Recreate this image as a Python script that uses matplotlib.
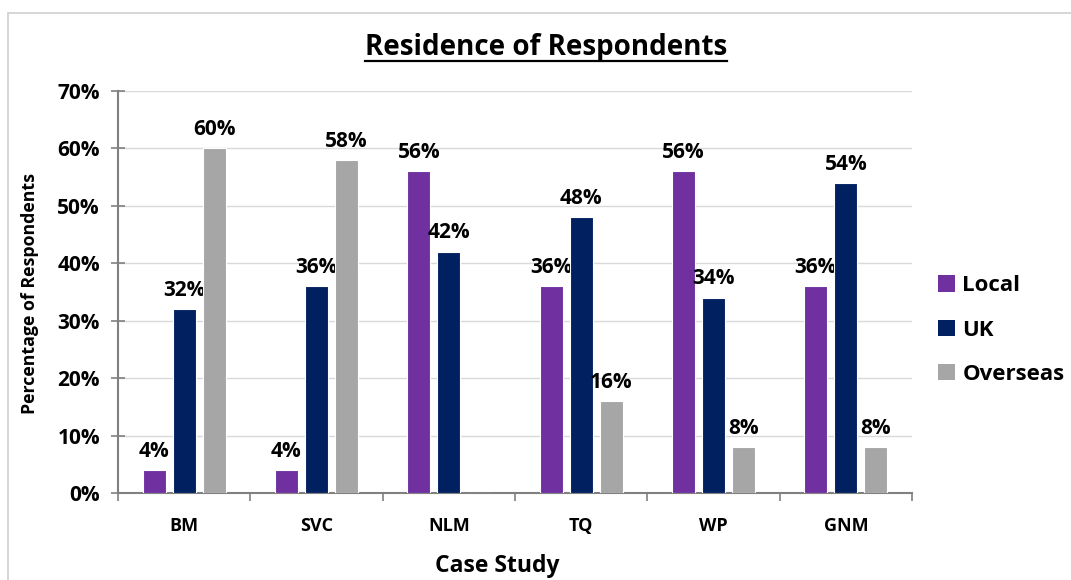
import numpy as np
import matplotlib
matplotlib.use('Agg')
import matplotlib.pyplot as plt
from matplotlib.patches import Rectangle, Patch
from matplotlib.lines import Line2D

# data
cases = ['BM', 'SVC', 'NLM', 'TQ', 'WP', 'GNM']
local = [4, 4, 56, 36, 56, 36]
uk = [32, 36, 42, 48, 34, 54]
overseas = [60, 58, 0, 16, 8, 8]
series_names = ['Local', 'UK', 'Overseas']
colors = ['#7030A0', '#002060', '#A6A6A6']

plt.rcParams['font.family'] = ['Open Sans', 'DejaVu Sans']
plt.rcParams['font.weight'] = 'bold'

fig = plt.figure(figsize=(10.71, 5.8), dpi=100)
ax = fig.add_axes([118/1071, 1-493/580, (912-118)/1071, (493-91)/580])

# light frame around the chart area
fig.patches.append(Rectangle((8/1071, -0.2), 1.2, 1.2 - 13/580,
                             transform=fig.transFigure, fill=False,
                             edgecolor='#d0d0d0', lw=1.2, zorder=0))

x = np.arange(len(cases))
w = 0.174
step = 0.227
for i, (vals, c) in enumerate(zip([local, uk, overseas], colors)):
    pos = x + (i-1)*step
    ax.bar(pos, vals, width=w, color=c, edgecolor='white', lw=0.8, zorder=3)
    for xp, v in zip(pos, vals):
        if v > 0:
            ax.annotate(f'{v}%', (xp, v), xytext=(0, 6), textcoords='offset points',
                        ha='center', va='bottom', fontsize=15, fontweight='bold')

ax.set_xlim(-0.5, 5.5)
ax.set_ylim(0, 70)
ax.set_yticks(np.arange(0, 71, 10))
ax.set_yticklabels([f'{t}%' for t in range(0, 71, 10)], fontsize=15, fontweight='bold')
ax.set_xticks(x)
ax.set_xticklabels(cases, fontsize=13, fontweight='bold')
ax.set_xticks(np.arange(-0.5, 6, 1), minor=True)
ax.tick_params(axis='x', which='major', length=0, pad=17)
ax.tick_params(axis='x', which='minor', length=6, direction='out', color='#808080', width=1.2)
ax.tick_params(axis='y', length=10, direction='inout', color='#808080', width=1.2, pad=8)

ax.grid(axis='y', color='#d9d9d9', lw=1, zorder=0)
ax.set_axisbelow(True)
for s in ['top', 'right']:
    ax.spines[s].set_visible(False)
for s in ['left', 'bottom']:
    ax.spines[s].set_color('#808080')
    ax.spines[s].set_linewidth(1.5)

fig.text(30/1071, 1-293/580, 'Percentage of Respondents', rotation=90,
         ha='center', va='center', fontsize=12.8, fontweight='bold')
fig.text(497/1071, 1-566/580, 'Case Study', ha='center', va='center',
         fontsize=16.5, fontweight='bold')

title = fig.text(546/1071, 1-47/580, 'Residence of Respondents', ha='center', va='center',
                 fontsize=20, fontweight='bold')
fig.canvas.draw()
bb = title.get_window_extent().transformed(fig.transFigure.inverted())
fig.lines.append(Line2D([bb.x0, bb.x1], [1-61/580, 1-61/580], transform=fig.transFigure,
                        color='black', lw=1.6))

handles = [Patch(facecolor=c, edgecolor='none') for c in colors]
fig.legend(handles, series_names, loc='center left', bbox_to_anchor=(918/1071, 1-330/580),
           frameon=False, prop={'weight': 'bold', 'size': 16},
           handlelength=0.75, handleheight=0.75, handletextpad=0.35, labelspacing=1.05)

fig.savefig('out.png', dpi=100)
